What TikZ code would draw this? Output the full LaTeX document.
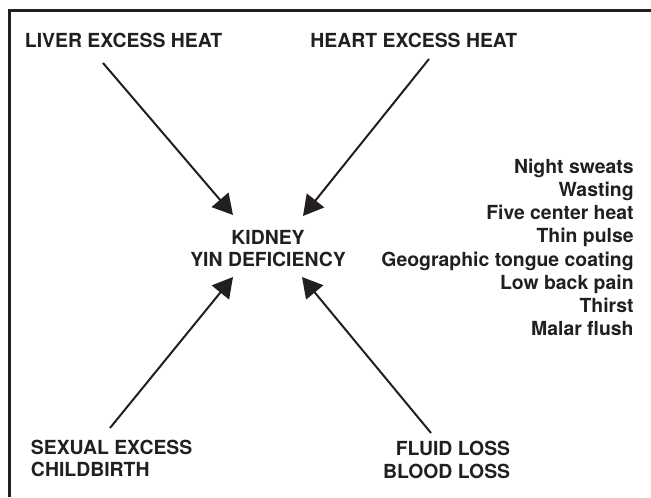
\documentclass[tikz,border=0pt]{standalone}
\usepackage{fontspec}
\setmainfont{TeX Gyre Heros}
\usepackage{tikz}
\usetikzlibrary{arrows.meta}
\definecolor{ink}{HTML}{231F20}

\tikzset{
    heading/.style={font=\fontsize{9.7}{11.2}\selectfont\bfseries, text=ink, inner sep=0pt},
    symptom/.style={heading, font=\fontsize{9.7}{11.55}\selectfont\bfseries, align=right},
    cause/.style={draw=ink, line width=1pt, -{Triangle[length=10pt, width=11pt]}}
}

\begin{document}
\begin{tikzpicture}[x=0.5pt, y=0.5pt]
        \useasboundingbox (0, 0) rectangle (651, 497);
        % Frame (only top and left edges show)
        \draw [ink, line width=1.3pt] (9.5, 0) -- (9.5, 486.5) -- (651, 486.5);
        % Causes
        \node [heading, anchor=base west] (liver) at (24.5, 449) {LIVER EXCESS HEAT};
        \node [heading, anchor=base west] (heart) at (310, 449) {HEART EXCESS HEAT};
        \node [heading, align=left, anchor=base west] (sexual) at (30.5, 20.3) {SEXUAL EXCESS\\CHILDBIRTH};
        \node [heading, align=right, anchor=base east] (fluid) at (510.5, 19) {FLUID LOSS\\BLOOD LOSS};
        % Pattern
        \node [heading, align=center, anchor=base] (kidney) at (268, 230.3) {KIDNEY\\YIN DEFICIENCY};
        % Signs
        \node [symptom, anchor=base east] (signs) at (634, 161.6) {Night sweats\\Wasting\\Five center heat\\Thin pulse\\Geographic tongue coating\\Low back pain\\Thirst\\Malar flush};
        % Arrow ends
        \coordinate (liver start) at (103, 434);
        \coordinate (liver tip) at (233, 282);
        \coordinate (heart start) at (429, 438);
        \coordinate (heart tip) at (303, 281);
        \coordinate (sexual start) at (110, 69);
        \coordinate (sexual tip) at (233, 220);
        \coordinate (fluid start) at (431, 64);
        \coordinate (fluid tip) at (302, 220);
        % Arrows
        \draw [cause] (liver start) -- (liver tip);
        \draw [cause] (heart start) -- (heart tip);
        \draw [cause] (sexual start) -- (sexual tip);
        \draw [cause] (fluid start) -- (fluid tip);
    \end{tikzpicture}
\end{document}
